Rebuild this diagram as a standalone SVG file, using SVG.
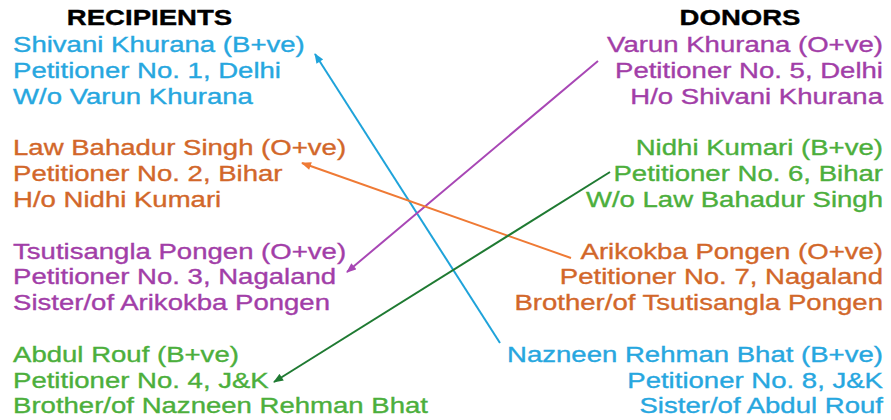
<svg xmlns="http://www.w3.org/2000/svg" width="891" height="420" viewBox="0 0 891 420">
  <style>
    text { font-family: "Liberation Sans", Arial, sans-serif; font-size: 22px; stroke-width: 0.35px; }
    .hdr { font-weight: bold; fill: #000; stroke: #000; text-anchor: middle; }
    .l { text-anchor: start; }
    .r { text-anchor: end; }
    .blue text { fill: #27a7df; stroke: #27a7df; }
    .purple text { fill: #a23ea8; stroke: #a23ea8; }
    .orange text { fill: #d2672a; stroke: #d2672a; }
    .green text { fill: #4caf3c; stroke: #4caf3c; }
    .link { fill: none; stroke-width: 2; }
  </style>
  <defs>
    <marker id="ah-blue" viewBox="0 0 10 8" refX="9" refY="4" markerWidth="11" markerHeight="8" markerUnits="userSpaceOnUse" orient="auto">
      <path d="M0,0 L10,4 L0,8 Z" fill="#1fa3da"/>
    </marker>
    <marker id="ah-purple" viewBox="0 0 10 8" refX="9" refY="4" markerWidth="11" markerHeight="8" markerUnits="userSpaceOnUse" orient="auto">
      <path d="M0,0 L10,4 L0,8 Z" fill="#a847b5"/>
    </marker>
    <marker id="ah-orange" viewBox="0 0 10 8" refX="9" refY="4" markerWidth="11" markerHeight="8" markerUnits="userSpaceOnUse" orient="auto">
      <path d="M0,0 L10,4 L0,8 Z" fill="#ef7a35"/>
    </marker>
    <marker id="ah-green" viewBox="0 0 10 8" refX="9" refY="4" markerWidth="11" markerHeight="8" markerUnits="userSpaceOnUse" orient="auto">
      <path d="M0,0 L10,4 L0,8 Z" fill="#1f7a32"/>
    </marker>
  </defs>

  <rect width="891" height="420" fill="#ffffff"/>

  <!-- connectors: donor to recipient -->
  <g id="connectors">
    <line class="link" x1="500" y1="343" x2="315" y2="54" stroke="#1fa3da" marker-end="url(#ah-blue)"/>
    <line class="link" x1="598" y1="61" x2="347" y2="272" stroke="#a847b5" marker-end="url(#ah-purple)"/>
    <line class="link" x1="571" y1="258" x2="302" y2="163" stroke="#ef7a35" marker-end="url(#ah-orange)"/>
    <line class="link" x1="610" y1="172" x2="274" y2="382" stroke="#1f7a32" marker-end="url(#ah-green)"/>
  </g>

  <!-- text is drawn horizontally widened -->
  <g transform="scale(1.253 1)">
    <g id="header-recipients">
      <text class="hdr" x="119.3" y="25">RECIPIENTS</text>
    </g>
    <g id="header-donors">
      <text class="hdr" x="590.6" y="25">DONORS</text>
    </g>

    <g id="recipient-1" class="blue">
      <text class="l" x="10.4" y="52">Shivani Khurana (B+ve)</text>
      <text class="l" x="10.4" y="77.8">Petitioner No. 1, Delhi</text>
      <text class="l" x="10.4" y="103.6">W/o Varun Khurana</text>
    </g>
    <g id="recipient-2" class="orange">
      <text class="l" x="10.4" y="155.3">Law Bahadur Singh (O+ve)</text>
      <text class="l" x="10.4" y="181.1">Petitioner No. 2, Bihar</text>
      <text class="l" x="10.4" y="206.9">H/o Nidhi Kumari</text>
    </g>
    <g id="recipient-3" class="purple">
      <text class="l" x="10.4" y="258.6">Tsutisangla Pongen (O+ve)</text>
      <text class="l" x="10.4" y="284.4">Petitioner No. 3, Nagaland</text>
      <text class="l" x="10.4" y="310.2">Sister/of Arikokba Pongen</text>
    </g>
    <g id="recipient-4" class="green">
      <text class="l" x="10.4" y="361.9">Abdul Rouf (B+ve)</text>
      <text class="l" x="10.4" y="387.7">Petitioner No. 4, J&amp;K</text>
      <text class="l" x="10.4" y="413.5">Brother/of Nazneen Rehman Bhat</text>
    </g>

    <g id="donor-5" class="purple">
      <text class="r" x="704.7" y="52">Varun Khurana (O+ve)</text>
      <text class="r" x="704.7" y="77.8">Petitioner No. 5, Delhi</text>
      <text class="r" x="704.7" y="103.6">H/o Shivani Khurana</text>
    </g>
    <g id="donor-6" class="green">
      <text class="r" x="704.7" y="155.3">Nidhi Kumari (B+ve)</text>
      <text class="r" x="704.7" y="181.1">Petitioner No. 6, Bihar</text>
      <text class="r" x="704.7" y="206.9">W/o Law Bahadur Singh</text>
    </g>
    <g id="donor-7" class="orange">
      <text class="r" x="704.7" y="258.6">Arikokba Pongen (O+ve)</text>
      <text class="r" x="704.7" y="284.4">Petitioner No. 7, Nagaland</text>
      <text class="r" x="704.7" y="310.2">Brother/of Tsutisangla Pongen</text>
    </g>
    <g id="donor-8" class="blue">
      <text class="r" x="704.7" y="361.9">Nazneen Rehman Bhat (B+ve)</text>
      <text class="r" x="704.7" y="387.7">Petitioner No. 8, J&amp;K</text>
      <text class="r" x="704.7" y="413.5">Sister/of Abdul Rouf</text>
    </g>
  </g>
</svg>
